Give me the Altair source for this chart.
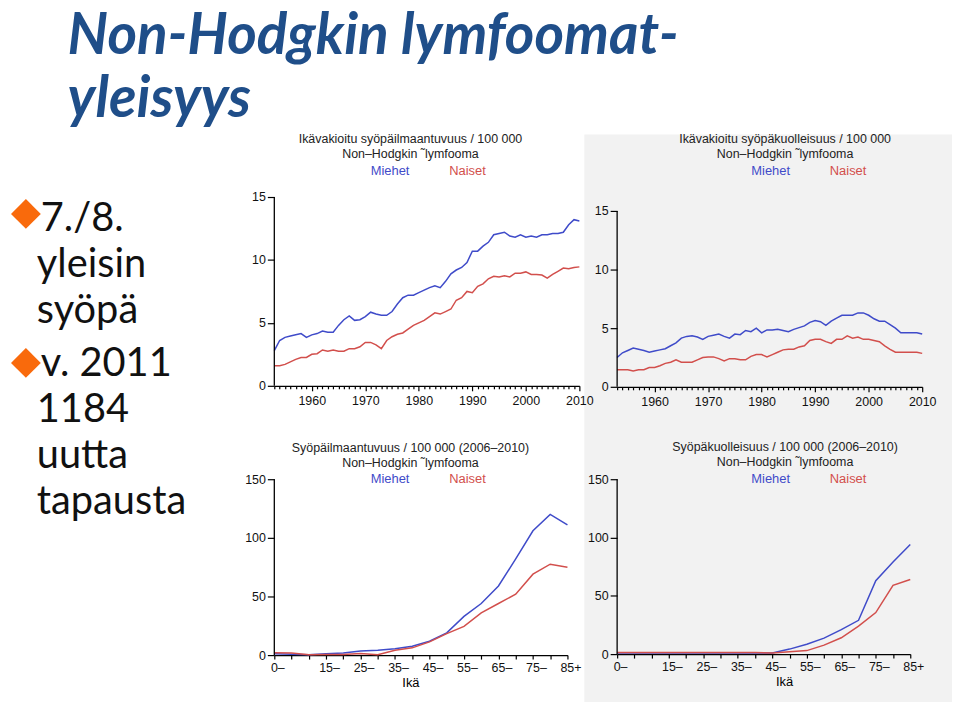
import altair as alt
import pandas as pd

FONT = "Liberation Sans"
SEXES = ["Miehet", "Naiset"]
COLORS = ["#3f4bc9", "#d24f4c"]

years = list(range(1953, 2011))
inc_m = [2.8, 3.6, 3.85, 3.95, 4.05, 4.15, 3.85, 4.05, 4.15, 4.35, 4.25, 4.25, 4.8, 5.25, 5.55, 5.2,
         5.25, 5.5, 5.85, 5.7, 5.6, 5.6, 5.9, 6.5, 7.0, 7.2, 7.2, 7.4, 7.6, 7.8, 7.95, 7.8, 8.3, 8.9,
         9.2, 9.4, 9.8, 10.7, 10.7, 11.1, 11.4, 12.0, 12.1, 12.2, 11.9, 11.8, 12.0, 11.8, 11.9, 11.8,
         12.0, 12.0, 12.1, 12.1, 12.2, 12.8, 13.2, 13.1]
inc_f = [1.6, 1.6, 1.7, 1.9, 2.1, 2.25, 2.25, 2.5, 2.55, 2.85, 2.75, 2.85, 2.75, 2.75, 2.95, 2.95,
         3.1, 3.45, 3.45, 3.25, 2.95, 3.6, 3.9, 4.1, 4.2, 4.5, 4.8, 5.0, 5.2, 5.5, 5.8, 5.7, 5.9, 6.1,
         6.8, 7.0, 7.5, 7.4, 7.9, 8.1, 8.5, 8.7, 8.65, 8.75, 8.65, 8.95, 8.95, 9.05, 8.85, 8.85, 8.8,
         8.55, 8.85, 9.1, 9.35, 9.3, 9.4, 9.45]
mort_m = [2.5, 2.9, 3.1, 3.3, 3.2, 3.1, 2.95, 3.05, 3.15, 3.25, 3.5, 3.75, 4.15, 4.3, 4.35, 4.25,
          4.05, 4.3, 4.4, 4.5, 4.3, 4.15, 4.5, 4.45, 4.8, 4.7, 5.0, 4.6, 4.85, 4.85, 4.9, 4.8, 4.7,
          4.9, 5.05, 5.2, 5.5, 5.65, 5.55, 5.25, 5.6, 5.85, 6.1, 6.1, 6.1, 6.3, 6.3, 6.1, 5.8, 5.6,
          5.6, 5.3, 5.0, 4.6, 4.6, 4.6, 4.6, 4.5]
mort_f = [1.45, 1.45, 1.45, 1.35, 1.45, 1.45, 1.65, 1.65, 1.8, 2.0, 2.1, 2.3, 2.1, 2.1, 2.1, 2.3,
          2.5, 2.55, 2.55, 2.4, 2.2, 2.4, 2.4, 2.3, 2.3, 2.6, 2.75, 2.75, 2.55, 2.75, 2.95, 3.15,
          3.2, 3.2, 3.4, 3.5, 3.95, 4.05, 4.05, 3.85, 3.7, 4.05, 4.05, 4.35, 4.15, 4.25, 4.05, 4.05,
          3.95, 3.85, 3.5, 3.2, 2.95, 2.95, 2.95, 2.95, 2.95, 2.85]

ages = [0, 5, 10, 15, 20, 25, 30, 35, 40, 45, 50, 55, 60, 65, 70, 75, 80, 85]
age_labels = ["0–", "5–", "10–", "15–", "20–", "25–", "30–", "35–", "40–", "45–", "50–",
              "55–", "60–", "65–", "70–", "75–", "80–", "85+"]
shown_ages = [0, 15, 25, 35, 45, 55, 65, 75, 85]
age_inc_m = [1.1, 0.8, 0.3, 1.1, 1.7, 3.4, 4.2, 5.4, 7.6, 11.8, 19, 33, 44, 59, 82, 106, 120, 111]
age_inc_f = [2.0, 1.7, 0.3, 0.5, 0.5, 1.4, 0.3, 4.2, 6.2, 11.3, 18.3, 24.5, 36, 44, 52, 69, 77.5, 75]
age_mort_m = [0.9, 0.9, 0.9, 0.9, 0.9, 0.9, 0.9, 0.9, 0.9, 1.0, 4.3, 8.5, 13.7, 21, 29, 63, 79, 94]
age_mort_f = [1.4, 1.4, 1.4, 1.4, 1.4, 1.4, 1.4, 1.4, 1.4, 1.0, 2.0, 3.0, 7.7, 14, 24, 35.6, 59, 64]

slide_title = ["Non-Hodgkin lymfoomat-", "yleisyys"]
bullets = [["7./8.", "yleisin", "syöpä"], ["v. 2011", "1184", "uutta", "tapausta"]]

t_inc = ["Ikävakioitu syöpäilmaantuvuus / 100 000", "Non–Hodgkin ˜lymfooma"]
t_mort = ["Ikävakioitu syöpäkuolleisuus / 100 000", "Non–Hodgkin ˜lymfooma"]
t_ainc = ["Syöpäilmaantuvuus / 100 000 (2006–2010)", "Non–Hodgkin ˜lymfooma"]
t_amort = ["Syöpäkuolleisuus / 100 000 (2006–2010)", "Non–Hodgkin ˜lymfooma"]


def long_df(xname, xs, m, f):
    rows = []
    for x, v in zip(xs, m):
        rows.append({xname: x, "arvo": v, "sukupuoli": SEXES[0]})
    for x, v in zip(xs, f):
        rows.append({xname: x, "arvo": v, "sukupuoli": SEXES[1]})
    return pd.DataFrame(rows)


label_color = alt.ExprRef(expr="datum.label == '%s' ? '%s' : '%s'" % (SEXES[0], COLORS[0], COLORS[1]))


def legend(lx, ly):
    return alt.Legend(orient="none", legendX=lx, legendY=ly, direction="horizontal", title=None,
                      symbolOpacity=0, symbolSize=0, symbolStrokeWidth=0, labelOffset=0,
                      columnPadding=26, labelFontSize=13, labelFont=FONT, labelColor=label_color)


def year_x():
    return alt.X("vuosi:Q", scale=alt.Scale(domain=[1953, 2010], nice=False, zero=False),
                 axis=alt.Axis(values=years, format="d", title=None,
                               labelExpr="datum.value % 10 == 0 ? datum.label : ''",
                               tickSize={"condition": {"test": "datum.value % 10 == 0", "value": 5}, "value": 3},
                               labelFlush=False, labelOverlap=False, labelPadding=4))


def age_x(title_x):
    shown = ",".join(str(a) for a in shown_ages)
    lab = "{" + ",".join("'%d':'%s'" % (a, l) for a, l in zip(ages, age_labels)) + "}"
    return alt.X("ika:Q", scale=alt.Scale(domain=[0, 85], nice=False, zero=False),
                 axis=alt.Axis(values=ages, title="Ikä", titleX=title_x, titleFontWeight="normal",
                               titleFontSize=13, titleFont=FONT, titlePadding=2,
                               labelExpr="indexof([%s], datum.value) >= 0 ? %s[datum.value + ''] : ''" % (shown, lab),
                               tickSize=4, labelFlush=False, labelOverlap=False, labelPadding=3,
                               labelOffset=3))


def panel(df, xenc, ymax, ytop, yvals, w, h, tlines, dx, offset, lx, ly):
    lines = alt.Chart(df).mark_line(strokeWidth=1.5).encode(
        x=xenc,
        y=alt.Y("arvo:Q", scale=alt.Scale(domain=[0, ymax], nice=False),
                axis=alt.Axis(values=yvals, title=None, tickSize=7, labelPadding=2, domain=False)),
        color=alt.Color("sukupuoli:N", scale=alt.Scale(domain=SEXES, range=COLORS), legend=legend(lx, ly)),
    )
    # y axis line from 0 to the top tick value, at the left edge of the plot
    ax_df = pd.DataFrame({"lo": [0], "hi": [ytop]})
    axis_line = alt.Chart(ax_df).mark_rule(color="#000", strokeWidth=1.3).encode(
        x=alt.value(0), y=alt.Y("lo:Q"), y2=alt.Y2("hi:Q"))
    return alt.layer(lines, axis_line).properties(
        width=w, height=h,
        title=alt.TitleParams(text=tlines, anchor="middle", frame="group", dx=dx, offset=offset,
                              fontSize=12.5, font=FONT, fontWeight="normal", color="#222",
                              lineHeight=15.5))


tl = panel(long_df("vuosi", years, inc_m, inc_f), year_x(), 15, 15, [0, 5, 10, 15], 307, 190,
           t_inc, -16.5, 4, 84, -32.5)
tr = panel(long_df("vuosi", years, mort_m, mort_f), year_x(), 15 * 191 / 177, 15, [0, 5, 10, 15],
           307, 191, t_mort, 15.5, 4, 122, -32.5)
bl = panel(long_df("ika", ages, age_inc_m, age_inc_f), age_x(137), 150, 150, [0, 50, 100, 150],
           295, 177, t_ainc, -10.5, 3, 84, -6.5)
br = panel(long_df("ika", ages, age_mort_m, age_mort_f), age_x(168), 150, 150, [0, 50, 100, 150],
           295, 176, t_amort, 21.5, 4, 122, -6.5)

dummy = pd.DataFrame({"a": [0]})


def spacer(w, h):
    return alt.Chart(dummy).mark_point(opacity=0).encode(
        x=alt.value(0), y=alt.value(0)).properties(width=w, height=h)


# text panel: background of right column, slide title, bullets
bg = alt.Chart(dummy).mark_rect(color="#f2f2f2").encode(
    x=alt.value(577), x2=alt.value(947), y=alt.value(127), y2=alt.value(699))

title_df = pd.DataFrame({"t": slide_title, "px": [57, 57], "py": [46, 109]})
title_txt = alt.Chart(title_df).mark_text(align="left", baseline="alphabetic", font="Lato", fontSize=57,
                                          fontStyle="italic", fontWeight="bold", color="#1f4e89").encode(
    x=alt.X("px:Q", scale=None), y=alt.Y("py:Q", scale=None), text="t:N")

rows = []
base_y = [224, 370]
for bi, group in enumerate(bullets):
    for li, line in enumerate(group):
        rows.append({"t": line, "px": 30 if li == 0 else 26, "py": base_y[bi] + li * 46.3})
bul_df = pd.DataFrame(rows)
bul_txt = alt.Chart(bul_df).mark_text(align="left", baseline="alphabetic", font="Lato", fontSize=40,
                                      color="#111").encode(
    x=alt.X("px:Q", scale=None), y=alt.Y("py:Q", scale=None), text="t:N")
dia_df = pd.DataFrame({"px": [15, 15], "py": [207, 357]})
dia = alt.Chart(dia_df).mark_point(shape="diamond", filled=True, size=900, color="#f96a0c", opacity=1).encode(
    x=alt.X("px:Q", scale=None), y=alt.Y("py:Q", scale=None))

text_panel = alt.layer(bg, title_txt, bul_txt, dia).properties(width=265, height=190)

cells = [
    text_panel, spacer(307, 190), spacer(38, 1), spacer(307, 190),
    spacer(265, 1), tl, spacer(38, 1), tr,
    spacer(265, 1), spacer(307, 93), spacer(38, 1), spacer(307, 93),
    spacer(265, 1), bl, spacer(38, 1), br,
]

chart = alt.concat(*cells, columns=4, align="each", bounds="flush", spacing=0).resolve_scale(
    color="independent").resolve_legend(color="independent").properties(
    padding={"left": 0, "top": -5, "right": 0, "bottom": 0}, background="white"
).configure_view(strokeWidth=0).configure_axis(
    domainColor="#000", domainWidth=1.3, tickColor="#000", tickWidth=1.2, labelColor="#111",
    labelFont=FONT, labelFontSize=12.5, grid=False, zindex=1
)

chart.save("out.html", embed_options={"renderer": "svg", "actions": False})
